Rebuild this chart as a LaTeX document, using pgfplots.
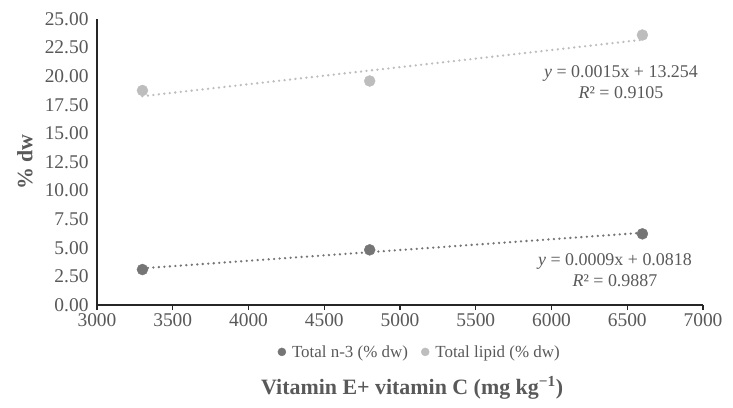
\documentclass[border=0pt]{standalone}
\usepackage{fontspec}
\setmainfont{Liberation Serif}
\usepackage{pgfplots}
\usepackage{pgfplotstable}
\pgfplotsset{compat=1.18}
\definecolor{tickgray}{HTML}{595959}
\definecolor{darkpt}{HTML}{757575}
\definecolor{lightpt}{HTML}{BDBDBD}
\definecolor{axblack}{HTML}{262626}

\pgfplotstableread{
x y
3300 3.10
4800 4.82
6600 6.22
}\nthree
\pgfplotstableread{
x y
3300 18.75
4800 19.58
6600 23.60
}\lipid

\begin{document}
\begin{tikzpicture}
\begin{axis}[
  scale only axis, width=606bp, height=286bp,
  xmin=3000, xmax=7000, ymin=0, ymax=25,
  xtick={3000,3500,...,7000}, ytick={0,2.5,5,7.5,10,12.5,15,17.5,20,22.5,25},
  axis x line*=bottom, axis y line*=left,
  axis line style={axblack, line width=1.5bp},
  /pgf/number format/assume math mode=true,
  xticklabel style={font=\fontsize{19.5}{22}\selectfont, text=tickgray, /pgf/number format/1000 sep={}},
  yticklabel style={font=\fontsize{19.5}{22}\selectfont, text=tickgray, /pgf/number format/.cd, fixed, fixed zerofill, precision=2},
  ytick style={draw=none},
  xtick style={axblack, line width=1.2bp},
  tick align=outside, major tick length=5bp,
  xlabel={Vitamin E+ vitamin C (mg kg\textsuperscript{−1})},
  ylabel={\% dw},
  xlabel style={font=\bfseries\fontsize{22}{25}\selectfont, text=tickgray, at={(axis description cs:0.52,-0.29)}, anchor=center},
  ylabel style={font=\bfseries\fontsize{22}{25}\selectfont, text=tickgray, at={(axis description cs:-0.119,0.5)}, anchor=center},
  legend style={at={(axis description cs:0.53,-0.164)}, anchor=center, draw=none, font=\fontsize{17}{20}\selectfont, text=tickgray, legend columns=2,
    /tikz/every even column/.append style={column sep=8bp}},
  legend image code/.code={\path (-0.15cm,0) (0.38cm,0); \draw[#1, mark size=4bp] plot coordinates {(0.1cm,0cm)};},
]
\addplot[darkpt, line width=2.6bp, line cap=round, dash pattern=on 0bp off 5.5bp, forget plot]
  table[x=x, y={create col/linear regression={y=y}}] {\nthree};
\addplot[lightpt, line width=2.6bp, line cap=round, dash pattern=on 0bp off 5.5bp, forget plot]
  table[x=x, y={create col/linear regression={y=y}}] {\lipid};
\addplot[only marks, mark=*, mark size=5.5bp, darkpt, mark options={draw=darkpt, fill=darkpt}] table[x=x, y=y] {\nthree};
\addlegendentry{Total n-3 (\% dw)}
\addplot[only marks, mark=*, mark size=5.5bp, lightpt, mark options={draw=lightpt, fill=lightpt}] table[x=x, y=y] {\lipid};
\addlegendentry{Total lipid (\% dw)}
\node[align=center, text=tickgray, font=\fontsize{18}{21}\selectfont] at (axis cs:6459,19.45) {\textit{y} = 0.0015x + 13.254\\\textit{R}² = 0.9105};
\node[align=center, text=tickgray, font=\fontsize{18}{21}\selectfont] at (axis cs:6419,3.02) {\textit{y} = 0.0009x + 0.0818\\\textit{R}² = 0.9887};
\end{axis}
\pgfresetboundingbox
\path[use as bounding box] ([xshift=-97bp,yshift=-103bp]current axis.south west) rectangle ([xshift=30bp,yshift=19bp]current axis.north east);
\end{tikzpicture}
\end{document}
